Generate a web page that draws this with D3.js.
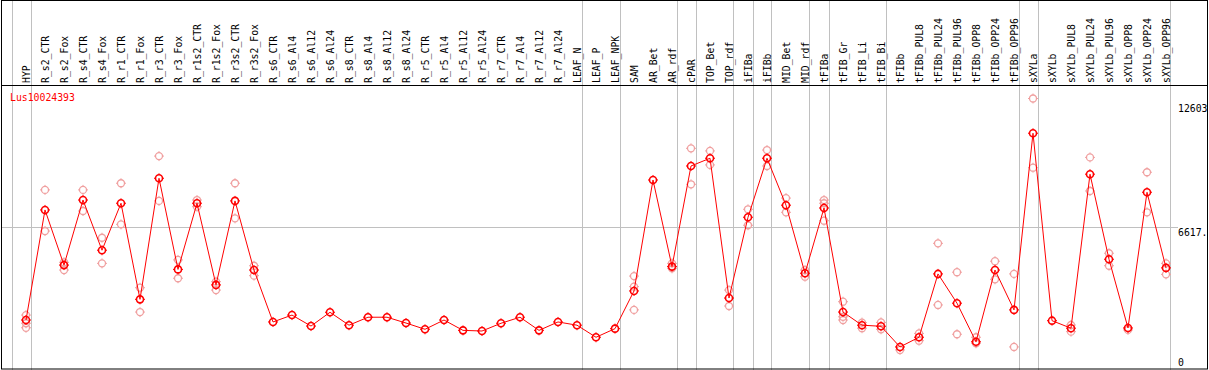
<!DOCTYPE html>
<html>
<head>
<meta charset="utf-8">
<script src="https://cdn.jsdelivr.net/npm/d3@7"></script>
<style>
  body { margin: 0; background: #fff; }
  text { font-family: "DejaVu Sans Mono", monospace; font-size: 9.8px; }
</style>
</head>
<body>
<div id="viz"></div>
<script>
var categories = ["HYP","R_s2_CTR","R_s2_Fox","R_s4_CTR","R_s4_Fox","R_r1_CTR","R_r1_Fox","R_r3_CTR","R_r3_Fox",
  "R_r1s2_CTR","R_r1s2_Fox","R_r3s2_CTR","R_r3s2_Fox","R_s6_CTR","R_s6_Al4","R_s6_Al12","R_s6_Al24",
  "R_s8_CTR","R_s8_Al4","R_s8_Al12","R_s8_Al24","R_r5_CTR","R_r5_Al4","R_r5_Al12","R_r5_Al24",
  "R_r7_CTR","R_r7_Al4","R_r7_Al12","R_r7_Al24","LEAF_N","LEAF_P","LEAF_NPK","SAM","AR_Bet","AR_rdf",
  "cPAR","TOP_Bet","TOP_rdf","iFIBa","iFIBb","MID_Bet","MID_rdf","tFIBa","tFIB_Gr","tFIB_Li","tFIB_Bi",
  "tFIBb","tFIBb_PUL8","tFIBb_PUL24","tFIBb_PUL96","tFIBb_OPP8","tFIBb_OPP24","tFIBb_OPP96",
  "sXYLa","sXYLb","sXYLb_PUL8","sXYLb_PUL24","sXYLb_PUL96","sXYLb_OPP8","sXYLb_OPP24","sXYLb_OPP96"];

var means = [2320, 7430, 4870, 7890, 5560, 7740, 3280, 8900, 4670,
  7740, 3950, 7850, 4640, 2230, 2550, 2040, 2680,
  2080, 2450, 2450, 2180, 1890, 2320, 1840, 1810,
  2170, 2450, 1840, 2230, 2080, 1520, 1920, 3670, 8820, 4800,
  9470, 9830, 3340, 7090, 9830, 7650, 4490, 7520, 2690, 2080, 2030,
  1070, 1520, 4460, 3100, 1310, 4640, 2790,
  10990, 2290, 1940, 9090, 5140, 1950, 8250, 4740];

var reps = [[2550, 2170, 1960], [8360, 6450], [5000, 4640], [8360, 7380], [6140, 4950], [8670, 6760], [3820, 2690], [9930, 7850], [5110, 4260],
  [7890, 7580], [4100, 3710], [8670, 7040], [4840, 4380], [], [], [], [],
  [], [], [], [], [], [], [], [],
  [], [], [], [], [], [], [], [4360, 3870, 2790], [], [4950, 4720],
  [10290, 8620], [10170, 9520], [3710, 2970], [7460, 6720], [10210, 9470], [7980, 7320], [4640, 4330], [7890, 7740, 6930], [3170, 2470, 2320], [2200, 1940], [2210, 1890],
  [930], [1700, 1360], [5880, 3020], [4540, 1660], [1520, 1240], [5050, 4210], [4460, 1070],
  [12603, 9390], [], [2090, 1780], [9870, 8310], [5420, 4840], [1860], [9180, 7320], [4950, 4440]];

var groupStarts = [0, 1, 30, 32, 35, 36, 38, 39, 40, 42, 43, 46, 53, 54, 61];
var tickValues = [0, 6617, 12603];
var tickLabels = ["0", "6617.", "12603"];
var title = "Lus10024393";

var width = 1209,
    height = 370;

var x = d3.scaleLinear().domain([0, categories.length - 1]).range([26, 1166]);
var y = d3.scaleLinear().domain([0, 12603]).range([370, 98.5]);

var svg = d3.select("#viz").append("svg")
    .attr("width", width)
    .attr("height", height);

// group separators
svg.selectAll(".sep").data(groupStarts).enter().append("line")
    .attr("x1", function(d) { return Math.round(x(d) - 14.5) + 0.5; })
    .attr("x2", function(d) { return Math.round(x(d) - 14.5) + 0.5; })
    .attr("y1", 0).attr("y2", height)
    .style("stroke", "#c0c0c0");

// mid grid line
svg.append("line")
    .attr("x1", 1).attr("x2", 1178)
    .attr("y1", Math.round(y(6617)) + 0.5).attr("y2", Math.round(y(6617)) + 0.5)
    .style("stroke", "#c0c0c0");

// frame
svg.append("rect")
    .attr("x", 1.5).attr("y", 0.5)
    .attr("width", 1206).attr("height", 368.5)
    .style("fill", "none").style("stroke", "black");
svg.append("line")
    .attr("x1", 1).attr("x2", 1208).attr("y1", 85.5).attr("y2", 85.5)
    .style("stroke", "black");

// category labels
svg.selectAll(".lab").data(categories).enter().append("text")
    .attr("transform", function(d, i) { return "translate(" + (x(i) + 3.5) + ",83) rotate(-90)"; })
    .text(function(d) { return d; });

// title
svg.append("text")
    .attr("x", 10).attr("y", 101)
    .style("fill", "red")
    .text(title);

// right axis labels
svg.selectAll(".tick").data(tickValues).enter().append("text")
    .attr("x", 1178)
    .attr("y", function(d) { return Math.max(112, Math.min(366, y(d) + 9)); })
    .text(function(d, i) { return tickLabels[i]; });

function marker(g, cx, cy, color, sw) {
    g.append("circle")
        .attr("cx", cx).attr("cy", cy).attr("r", 3.5)
        .style("fill", "none").style("stroke", color).style("stroke-width", sw);
    [[0, -1], [0, 1], [-1, 0], [1, 0]].forEach(function(p) {
        g.append("line")
            .attr("x1", cx + p[0] * 3.5).attr("y1", cy + p[1] * 3.5)
            .attr("x2", cx + p[0] * 5).attr("y2", cy + p[1] * 5)
            .style("stroke", color).style("stroke-width", 1);
    });
}

// replicates
var repG = svg.append("g");
reps.forEach(function(r, i) {
    r.forEach(function(v) { marker(repG, x(i), y(v), "#f0a0a0", 1.3); });
});

// mean line
svg.append("path")
    .datum(means)
    .attr("d", d3.line().x(function(d, i) { return x(i); }).y(function(d) { return y(d); }))
    .style("fill", "none").style("stroke", "red").style("stroke-width", 1);

// means
var meanG = svg.append("g");
means.forEach(function(v, i) { marker(meanG, x(i), y(v), "red", 1.6); });
</script>
</body>
</html>
